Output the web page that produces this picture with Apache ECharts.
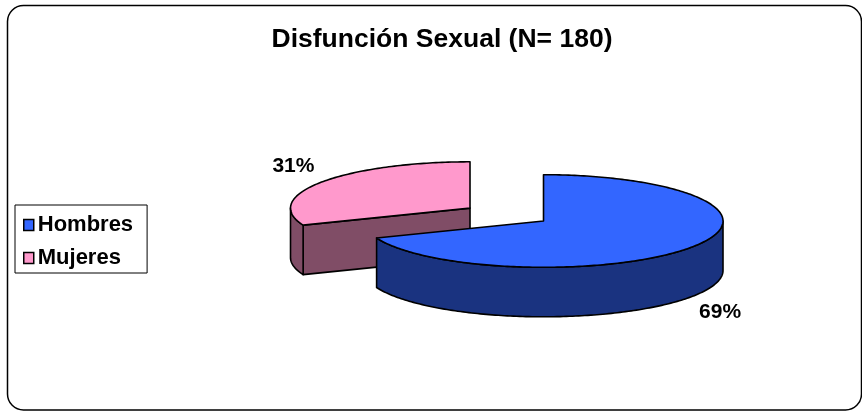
<!DOCTYPE html>
<html><head><meta charset="utf-8">
<script src="https://cdn.jsdelivr.net/npm/echarts@6/dist/echarts.min.js"></script>
<style>html,body{margin:0;padding:0;background:#fff}#c{width:862px;height:412px}</style>
</head><body><div id="c"></div>
<script>
const titleText = 'Disfunción Sexual (N= 180)';
const categories = ['Hombres', 'Mujeres'];
const values = [69, 31];
const valueLabels = ['69%', '31%'];

const topColors = ['#3366FF', '#FF99CC'];
const sideColors = ['#1A3380', '#804D66'];
const GEO = { cx: 543.5, cy: 221, rx: 179.5, ry: 46.3, depth: 49.5, explode: [0, 0.495], lx: 34, ly: 28 };

const total = values.reduce((a, b) => a + b, 0);
const rad = d => d * Math.PI / 180;

function makeRender(i) {
  return function (params, api) {
    let start = 0;
    for (let k = 0; k < i; k++) start += values[k] / total * 360;
    const end = start + values[i] / total * 360;
    const mid = (start + end) / 2;
    const e = GEO.explode[i];
    const ox = GEO.cx + e * GEO.rx * Math.sin(rad(mid));
    const oy = GEO.cy - e * GEO.ry * Math.cos(rad(mid));
    const D = GEO.depth;
    const pt = (t, dz) => [ox + GEO.rx * Math.sin(rad(t)), oy - GEO.ry * Math.cos(rad(t)) + dz];
    const arc = (a, b, dz) => {
      const pts = [];
      const n = Math.max(2, Math.ceil(Math.abs(b - a)));
      for (let j = 0; j <= n; j++) pts.push(pt(a + (b - a) * j / n, dz));
      return pts;
    };
    const st = (fill) => ({ fill: fill, stroke: '#000', lineWidth: 1.6, lineJoin: 'round' });
    const ch = [];
    if (Math.sin(rad(start)) < -1e-6) {
      ch.push({ type: 'polygon', shape: { points: [[ox, oy], pt(start, 0), pt(start, D), [ox, oy + D]] }, style: st(sideColors[i]) });
    }
    if (Math.sin(rad(end)) > 1e-6) {
      ch.push({ type: 'polygon', shape: { points: [[ox, oy], pt(end, 0), pt(end, D), [ox, oy + D]] }, style: st(sideColors[i]) });
    }
    const a = Math.max(start, 90), b = Math.min(end, 270);
    if (a < b) {
      const pts = arc(a, b, 0).concat(arc(b, a, D));
      ch.push({ type: 'polygon', shape: { points: pts }, style: st(sideColors[i]) });
    }
    ch.push({ type: 'polygon', shape: { points: [[ox, oy]].concat(arc(start, end, 0)) }, style: st(topColors[i]) });
    const front = Math.cos(rad(mid)) < 0;
    const anc = pt(mid, front ? D : 0);
    const sx = Math.sin(rad(mid)), sy = -Math.cos(rad(mid));
    ch.push({
      type: 'text',
      style: {
        x: anc[0] + sx * GEO.lx, y: anc[1] + sy * GEO.ly,
        text: valueLabels[i], align: 'center', verticalAlign: 'middle',
        font: 'bold 21px "Liberation Sans", Arial, sans-serif', fill: '#000'
      }
    });
    return { type: 'group', children: ch };
  };
}

const chart = echarts.init(document.getElementById('c'), null, { renderer: 'canvas' });
chart.setOption({
  animation: false,
  backgroundColor: '#fff',
  title: {
    text: titleText, left: 437, top: 21, textAlign: 'center',
    textStyle: { fontFamily: '"Liberation Sans", Arial, sans-serif', fontWeight: 'bold', fontSize: 26.5, color: '#000' }
  },
  legend: {
    data: categories, orient: 'vertical', left: 15, top: 205,
    padding: [9, 14, 4, 8], itemGap: 11, itemWidth: 10, itemHeight: 11,
    icon: 'rect', borderColor: '#000', borderWidth: 1, backgroundColor: '#fff',
    itemStyle: { borderColor: '#000', borderWidth: 1.5 },
    textStyle: { fontFamily: '"Liberation Sans", Arial, sans-serif', fontWeight: 'bold', fontSize: 22, color: '#000', padding: [0, 0, 0, -1] }
  },
  graphic: [{
    type: 'rect', shape: { x: 7.5, y: 5.5, width: 854, height: 404.5, r: 16 },
    style: { fill: 'none', stroke: '#000', lineWidth: 1.5 }, z: -1
  }],
  series: categories.map((name, i) => ({
    type: 'custom', name: name, coordinateSystem: 'none', data: [[i]],
    z: 10 - i, itemStyle: { color: topColors[i] },
    renderItem: makeRender(i)
  }))
});
</script></body></html>
